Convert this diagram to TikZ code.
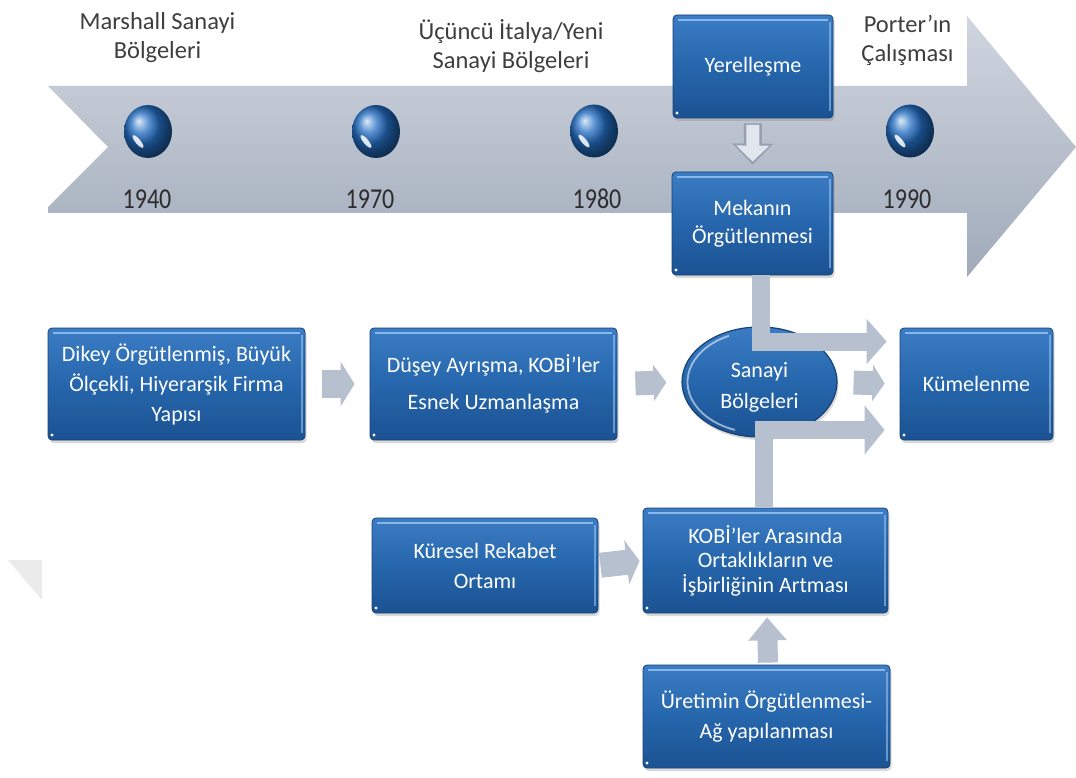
\documentclass[tikz,border=0pt]{standalone}
\usepackage{fontspec}
\setmainfont{Carlito}
\usepackage{graphicx}
\usetikzlibrary{arrows.meta,calc,shapes.geometric,shadows}

\definecolor{boxtop}{RGB}{60,124,196}
\definecolor{boxmid}{RGB}{38,102,172}
\definecolor{boxbot}{RGB}{27,82,146}
\definecolor{boxline}{RGB}{22,66,118}
\definecolor{boxglow}{RGB}{150,195,240}
\definecolor{arrowgray}{RGB}{182,192,207}
\definecolor{arrowedge}{RGB}{150,160,178}
\definecolor{arrowlight}{RGB}{226,230,237}
\definecolor{bandtop}{RGB}{208,214,224}
\definecolor{bandbot}{RGB}{160,170,185}
\definecolor{labelgray}{RGB}{62,62,62}
\definecolor{yeargray}{RGB}{45,45,45}
\definecolor{sphereblue}{RGB}{35,110,195}
\definecolor{cornergray}{RGB}{235,235,235}

\newcommand\tallyear[1]{\scalebox{1}[1.2]{#1}}

\begin{document}
\begin{tikzpicture}[x=1pt, y=-1pt,
  bluebox/.style={rectangle, rounded corners=4pt, draw=boxline, line width=0.8pt,
    top color=boxtop, bottom color=boxbot, middle color=boxmid,
    text=white, inner sep=0pt, align=center,
    font=\fontsize{22}{30}\selectfont,
    drop shadow={opacity=0.3, shadow xshift=1.5pt, shadow yshift=-3pt},
    path picture={
      \draw[boxglow, line width=2.5pt, opacity=0.85]
        ([xshift=5pt,yshift=-5pt]path picture bounding box.north west) --
        ([xshift=-5pt,yshift=-5pt]path picture bounding box.north east);
      \draw[boxglow, line width=1.5pt, opacity=0.6]
        ([xshift=-3pt,yshift=-7pt]path picture bounding box.north east) --
        ([xshift=-3pt,yshift=7pt]path picture bounding box.south east);
      \fill[white] ([xshift=4pt,yshift=5pt]path picture bounding box.south west) circle (1.6pt);
    }},
  regionoval/.style={ellipse, draw=boxline, line width=1.2pt,
    top color=boxtop, bottom color=boxbot, middle color=boxmid,
    drop shadow={opacity=0.3, shadow xshift=1.5pt, shadow yshift=-3pt},
    path picture={
      \draw[white, opacity=0.55, line width=1.8pt]
        ($(path picture bounding box.center)+(115:72pt and 51pt)$)
        arc[start angle=115, end angle=250, x radius=72pt, y radius=51pt];
    }},
  ovaltext/.style={text=white, align=center, inner sep=0pt,
    font=\fontsize{22}{31}\selectfont},
  toplabel/.style={text=labelgray, align=center, inner sep=0pt,
    font=\fontsize{24.5}{29}\selectfont},
  yearlabel/.style={text=yeargray, inner sep=0pt, font=\fontsize{24}{28}\selectfont},
  sphere/.style={ellipse, minimum width=48pt, minimum height=53pt, inner sep=0pt,
    shading=ball, ball color=sphereblue},
  glint/.style={white, opacity=0.85},
  blockarrow/.style={draw=arrowgray, line width=#1}
]
\useasboundingbox (0,0) rectangle (1076,778);
\fill[white] (0,0) rectangle (1076,778);

% faint corner wedge at the left edge
\fill[cornergray] (8,560) -- (42,560) -- (42,600) -- cycle;

% timeline band with notched tail and arrow head
\shade[top color=bandtop, bottom color=bandbot]
  (48,86) -- (967,86) -- (967,16) -- (1076,147) -- (967,277) -- (967,213)
  -- (48,213) -- (48,207) -- (108,147) -- cycle;

% period labels
\node[toplabel] (lmarshall) at (157.5,38) {Marshall Sanayi\\Bölgeleri};
\node[toplabel] (litalya) at (511,46) {Üçüncü İtalya/Yeni\\Sanayi Bölgeleri};
\node[toplabel] (lporter) at (907.5,40) {Porter’ın\\Çalışması};

% milestone beads with a reflection streak on the lower left
\node[sphere] (b1940) at (148,131.5) {};
\node[sphere] (b1970) at (376,131.5) {};
\node[sphere] (b1980) at (594,131) {};
\node[sphere] (b1990) at (910,131) {};
\foreach \b in {b1940,b1970,b1980,b1990}
  \fill[glint, shift={($(\b.center)+(-10pt,-10pt)$)}, rotate=-50] (0,0) ellipse (8pt and 2.5pt);

% years
\node[yearlabel] (y1940) at (147,199) {\tallyear{1940}};
\node[yearlabel] (y1970) at (370,199) {\tallyear{1970}};
\node[yearlabel] (y1980) at (597,199) {\tallyear{1980}};
\node[yearlabel] (y1990) at (907,199) {\tallyear{1990}};

% concept boxes
\node[bluebox, minimum width=160pt, minimum height=103pt] (yer) at (753,66.5) {Yerelleşme};
\node[bluebox, minimum width=161pt, minimum height=103pt,
      font=\fontsize{22}{28}\selectfont] (mek) at (752.5,223.5) {Mekanın\\Örgütlenmesi};
\node[bluebox, minimum width=257pt, minimum height=112pt] (dikey) at (176.5,384)
  {Dikey Örgütlenmiş, Büyük\\Ölçekli, Hiyerarşik Firma\\Yapısı};
\node[bluebox, minimum width=247pt, minimum height=112pt,
      font=\fontsize{22}{37}\selectfont] (dusey) at (493.5,384)
  {Düşey Ayrışma, KOBİ’ler\\Esnek Uzmanlaşma};
\node[regionoval, minimum width=155pt, minimum height=110pt,
      label={[ovaltext, yshift=-5pt]center:Sanayi\\Bölgeleri}] (san) at (759.5,382) {};
\node[bluebox, minimum width=153pt, minimum height=112pt] (kum) at (976.5,384) {Kümelenme};
\node[bluebox, minimum width=226pt, minimum height=95pt] (kur) at (485,565.5) {Küresel Rekabet\\Ortamı};
\node[bluebox, minimum width=245pt, minimum height=105pt,
      font=\fontsize{22}{24.5}\selectfont] (kobi) at (765.5,560.5)
  {KOBİ’ler Arasında\\Ortaklıkların ve\\İşbirliğinin Artması};
\node[bluebox, minimum width=247pt, minimum height=103pt] (uret) at (766.5,716.5)
  {Üretimin Örgütlenmesi-\\Ağ yapılanması};

% short downward arrow: outlined, light body
\draw[draw=arrowedge, line width=18pt, -{Triangle[length=21pt,width=40pt]}, shorten <=5pt, shorten >=7pt]
  (yer.south) -- (mek.north);
\draw[draw=arrowlight, line width=13pt, -{Triangle[length=16pt,width=32pt]}, shorten <=6.5pt, shorten >=10pt]
  (yer.south) -- (mek.north);

% straight block arrows
\draw[blockarrow=28pt, -{Triangle[length=14pt,width=44pt]}, shorten <=17pt, shorten >=15pt]
  (dikey.east) -- (dusey.west);
\draw[blockarrow=24pt, -{Triangle[length=13pt,width=36pt]}, shorten <=18pt, shorten >=15pt]
  (dusey.east) -- (san.west);
\draw[blockarrow=24pt, -{Triangle[length=12pt,width=36pt]}, shorten <=16pt, shorten >=15pt]
  (san.east) -- (kum.west);
\draw[blockarrow=25pt, -{Triangle[length=13pt,width=44pt]}, shorten <=2pt, shorten >=3pt]
  (kur.east) -- (kobi.west);
\draw[blockarrow=20pt, -{Triangle[length=23pt,width=37pt]}, shorten <=2pt, shorten >=4pt]
  ([xshift=1.5pt]uret.north) -- ([xshift=1.5pt]kobi.south);

% bent block arrows feeding into clustering
\draw[blockarrow=18pt, -{Triangle[length=20pt,width=44pt]}]
  ([xshift=8.5pt]mek.south) |- ($(kum.west)+(-13,-42.5)$);
\draw[blockarrow=18pt, -{Triangle[length=20pt,width=48pt]}]
  ([xshift=-1.5pt]kobi.north) |- ($(kum.west)+(-15,46)$);
\end{tikzpicture}
\end{document}
